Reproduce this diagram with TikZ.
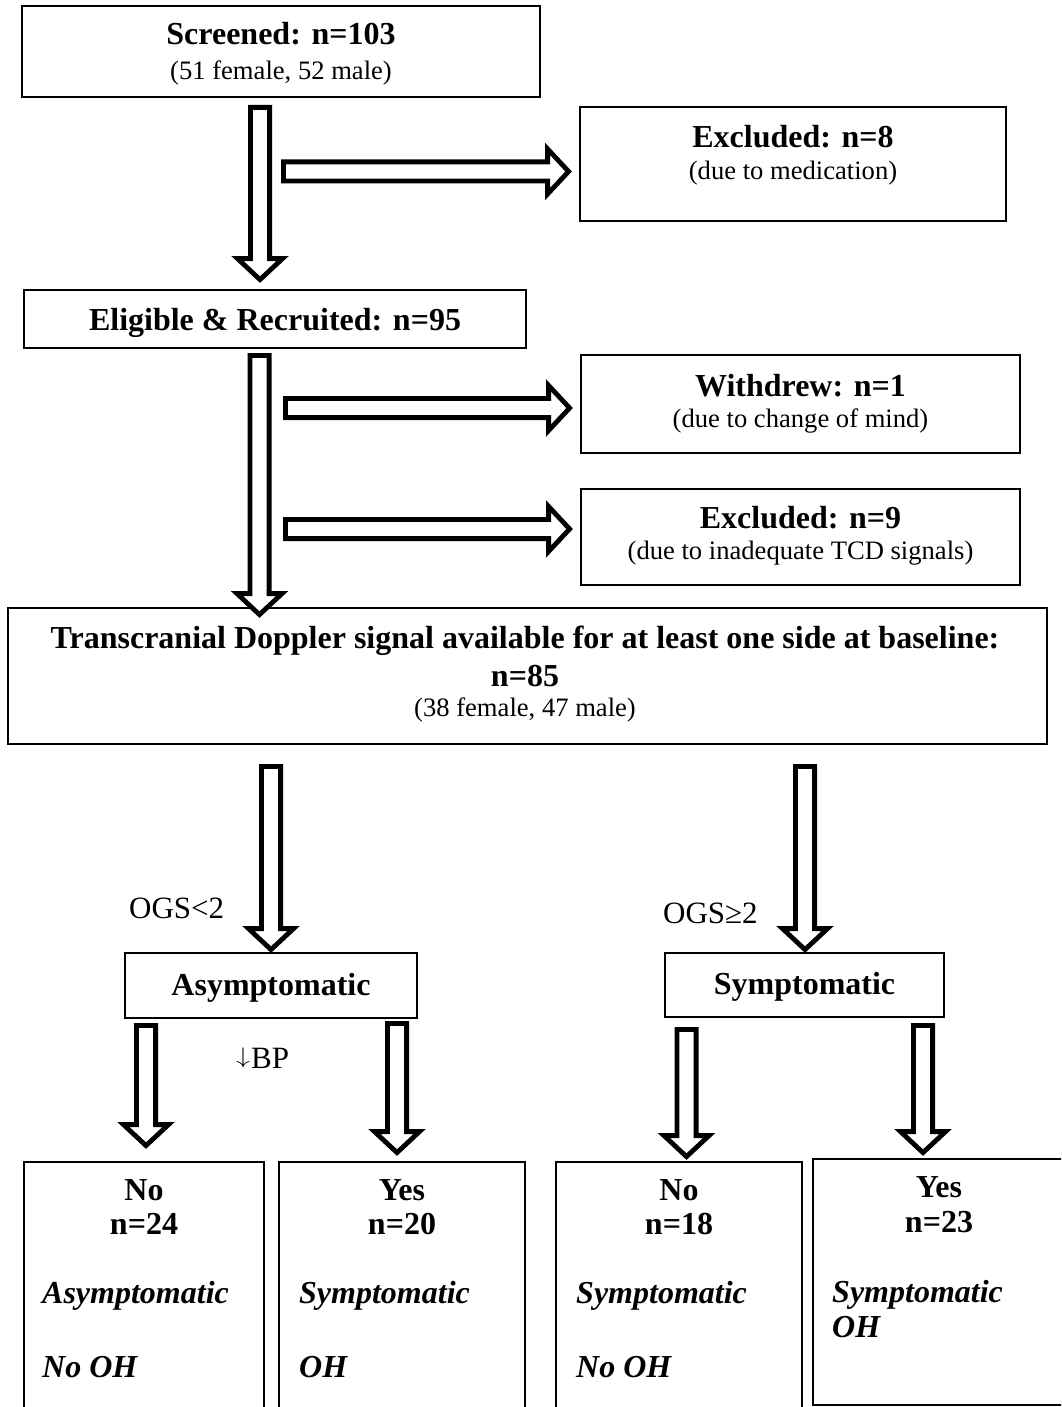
\documentclass[tikz,border=0pt]{standalone}
\usepackage{fontspec}
\usepackage{graphicx}
\setmainfont{Liberation Serif}
\usetikzlibrary{calc}
\tikzset{
  box/.style={draw=black, line width=1.6pt, rectangle, inner sep=0pt},
  blockarr/.style={draw=black, fill=white, line width=4.8pt, line join=miter, miter limit=10},
  ttl/.style={inner sep=0pt, anchor=base, font=\fontsize{32}{38}\selectfont\bfseries},
  sub/.style={inner sep=0pt, anchor=base, font=\fontsize{26.6}{31}\selectfont},
  lab/.style={inner sep=0pt, anchor=base west, font=\fontsize{31}{36}\selectfont},
  bital/.style={inner sep=0pt, anchor=base west, font=\fontsize{32}{38}\selectfont\bfseries\itshape},
}
\newcommand\DArr[2]{\draw[blockarr] let \p1=(#1), \p2=(#2) in
  (\x1-9.6pt,\y1) -- (\x1+9.6pt,\y1) -- (\x1+9.6pt,\y2+21pt) -- (\x1+22.5pt,\y2+21pt)
  -- (\x1,\y2) -- (\x1-22.5pt,\y2+21pt) -- (\x1-9.6pt,\y2+21pt) -- cycle;}
\newcommand\RArr[2]{\draw[blockarr] let \p1=(#1), \p2=(#2) in
  (\x1,\y1+9.6pt) -- (\x2-21pt,\y1+9.6pt) -- (\x2-21pt,\y1+22.5pt) -- (\x2,\y1)
  -- (\x2-21pt,\y1-22.5pt) -- (\x2-21pt,\y1-9.6pt) -- (\x1,\y1-9.6pt) -- cycle;}
\begin{document}
\begin{tikzpicture}[x=1pt,y=-1pt]
\useasboundingbox (0,0) rectangle (1061,1407);
\fill[white] (0,0) rectangle (1061,1407);
\clip (0,0) rectangle (1061,1407);

% boxes
\node[box, minimum width=518pt, minimum height=91pt] (screened) at (281,51.5) {};
\node[box, minimum width=426pt, minimum height=114pt] (excl1) at (793,164) {};
\node[box, minimum width=502pt, minimum height=58pt] (elig) at (275,319) {};
\node[box, minimum width=439pt, minimum height=98pt] (withd) at (800.5,404) {};
\node[box, minimum width=439pt, minimum height=96pt] (excl2) at (800.5,537) {};
\node[box, minimum width=1039pt, minimum height=136pt] (tcd) at (527.5,676) {};
\node[box, minimum width=292pt, minimum height=65pt] (asym) at (271,985.5) {};
\node[box, minimum width=279pt, minimum height=64pt] (sym) at (804.5,985) {};
\node[box, minimum width=240pt, minimum height=260pt] (b1) at (144,1292) {};
\node[box, minimum width=246pt, minimum height=260pt] (b2) at (402,1292) {};
\node[box, minimum width=246pt, minimum height=260pt] (b3) at (679,1292) {};
\node[box, minimum width=255pt, minimum height=246pt] (b4) at (940.5,1282) {};

% texts
\node[ttl] (t1) at (281,45) {Screened: n=103};
\node[sub] (s1) at (281,79.5) {(51 female, 52 male)};
\node[ttl] (t2) at (793,147.5) {Excluded: n=8};
\node[sub] (s2) at (793,179.5) {(due to medication)};
\node[ttl] (t3) at (275,330.5) {Eligible \& Recruited: n=95};
\node[ttl] (t4) at (800.5,396) {Withdrew: n=1};
\node[sub] (s4) at (800.5,427) {(due to change of mind)};
\node[ttl] (t5) at (800.5,528.5) {Excluded: n=9};
\node[sub] (s5) at (800.5,559) {(due to inadequate TCD signals)};
\node[ttl] (t6a) at (525,648) {Transcranial Doppler signal available for at least one side at baseline:};
\node[ttl] (t6b) at (525,686) {n=85};
\node[sub] (s6) at (525,716) {(38 female, 47 male)};
\node[lab] (ogs1) at (129,918) {OGS<2};
\node[lab] (ogs2) at (663,923) {OGS≥2};
\node[ttl] (t7) at (271,995) {Asymptomatic};
\node[ttl] (t8) at (804.5,994.5) {Symptomatic};
\node[lab] (bp) at (236,1068) {\raisebox{4.4pt}{\resizebox*{14pt}{20pt}{$\downarrow$}}\kern1pt BP};

\node[ttl] (b1a) at (144,1200) {No};
\node[ttl] (b1b) at (144,1234) {n=24};
\node[bital] (b1c) at (42,1303) {Asymptomatic};
\node[bital] (b1d) at (42,1377) {No OH};
\node[ttl] (b2a) at (402,1200) {Yes};
\node[ttl] (b2b) at (402,1234) {n=20};
\node[bital] (b2c) at (299,1303) {Symptomatic};
\node[bital] (b2d) at (299,1377) {OH};
\node[ttl] (b3a) at (679,1200) {No};
\node[ttl] (b3b) at (679,1234) {n=18};
\node[bital] (b3c) at (576,1303) {Symptomatic};
\node[bital] (b3d) at (576,1377) {No OH};
\node[ttl] (b4a) at (939,1197) {Yes};
\node[ttl] (b4b) at (939,1232) {n=23};
\node[bital] (b4c) at (832,1302) {Symptomatic};
\node[bital] (b4d) at (832,1337) {OH};

% arrow end points
\coordinate (a1s) at (260,107.4);   \coordinate (a1e) at (260,279.6);
\coordinate (h1s) at (283.4,171.5); \coordinate (h1e) at (568.6,171.5);
\coordinate (a2s) at (259.5,355.4); \coordinate (a2e) at (259.5,614.6);
\coordinate (h2s) at (285.4,408);   \coordinate (h2e) at (569.6,408);
\coordinate (h3s) at (285.4,529);   \coordinate (h3e) at (569.6,529);
\coordinate (a3s) at (271,766.4);   \coordinate (a3e) at (271,949.6);
\coordinate (a4s) at (805,766.4);   \coordinate (a4e) at (805,949.6);
\coordinate (a5s) at (146,1025.4);  \coordinate (a5e) at (146,1145.6);
\coordinate (a6s) at (397,1023.4);  \coordinate (a6e) at (397,1152.6);
\coordinate (a7s) at (686.5,1029.4);\coordinate (a7e) at (686.5,1156.6);
\coordinate (a8s) at (923,1025.4);  \coordinate (a8e) at (923,1152.6);

\DArr{a1s}{a1e}
\RArr{h1s}{h1e}
\DArr{a2s}{a2e}
\RArr{h2s}{h2e}
\RArr{h3s}{h3e}
\DArr{a3s}{a3e}
\DArr{a4s}{a4e}
\DArr{a5s}{a5e}
\DArr{a6s}{a6e}
\DArr{a7s}{a7e}
\DArr{a8s}{a8e}
\end{tikzpicture}
\end{document}
